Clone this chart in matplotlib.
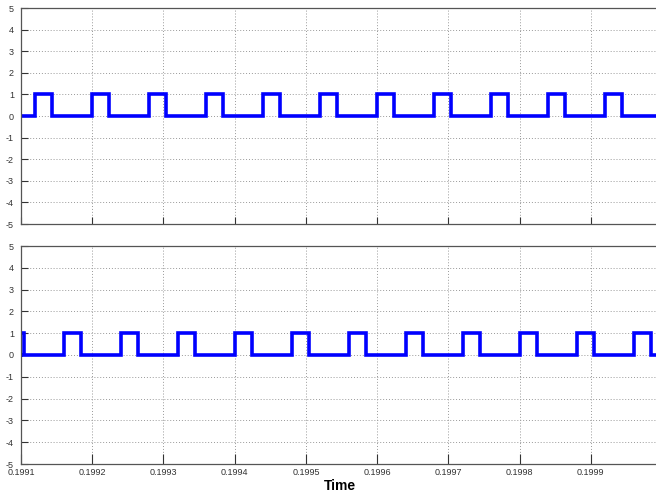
import numpy as np
import matplotlib
matplotlib.use('Agg')
import matplotlib.pyplot as plt

plt.rcParams['font.family'] = ['Liberation Sans', 'DejaVu Sans']

# pulse rise times (s) for the two traces, pulse width and amplitude
top_rises = [0.19912, 0.19920, 0.19928, 0.19936, 0.19944, 0.19952,
             0.19960, 0.19968, 0.19976, 0.19984, 0.19992]
bottom_rises = [0.19908, 0.19916, 0.19924, 0.19932, 0.19940, 0.19948,
                0.19956, 0.19964, 0.19972, 0.19980, 0.19988, 0.19996]
pulse_width = 0.000024
pulse_high = 1.0

t_start, t_end = 0.1991, 0.2000
xticks = [0.1991, 0.1992, 0.1993, 0.1994, 0.1995, 0.1996, 0.1997, 0.1998, 0.1999]
xticklabels = ['0.1991', '0.1992', '0.1993', '0.1994', '0.1995',
               '0.1996', '0.1997', '0.1998', '0.1999']
yticks = [-5, -4, -3, -2, -1, 0, 1, 2, 3, 4, 5]


def step_signal(rises):
    # build a square wave from the rise times
    t = [t_start]
    v = [0.0]
    for r in rises:
        f = r + pulse_width
        t += [r, r, f, f]
        v += [0.0, pulse_high, pulse_high, 0.0]
    t.append(t_end)
    v.append(0.0)
    return np.array(t), np.array(v)


fig = plt.figure(figsize=(6.56, 4.95), dpi=100)
w = (662 - 21) / 656
ax1 = fig.add_axes([21 / 656, 1 - 224 / 495, w, (224 - 8) / 495])
ax2 = fig.add_axes([21 / 656, 1 - 464 / 495, w, (464 - 246) / 495])

for ax, rises in [(ax1, top_rises), (ax2, bottom_rises)]:
    t, v = step_signal(rises)
    ax.plot(t, v, color='#0000ff', linewidth=2.6, solid_joinstyle='miter')
    ax.set_xlim(t_start, t_end)
    ax.set_ylim(-5, 5)
    ax.set_xticks(xticks)
    ax.set_yticks(yticks)
    ax.set_yticklabels([str(y) for y in yticks])
    ax.grid(True, linestyle=(0, (1, 2)), color='#999999', linewidth=0.7)
    ax.tick_params(direction='in', length=5, width=0.8, labelsize=6.5,
                   colors='#333333', pad=2)
    ax.tick_params(axis='y', pad=5)
    for s in ax.spines.values():
        s.set_color('#555555')
        s.set_linewidth(0.9)

ax1.set_xticklabels([])
ax2.set_xticklabels(xticklabels)
ax2.tick_params(axis='x', length=7, pad=3)

fig.text(340 / 656, 1 - 486 / 495, 'Time', ha='center', va='center',
         fontsize=10, fontweight='bold')

fig.savefig('out.png', dpi=100)
